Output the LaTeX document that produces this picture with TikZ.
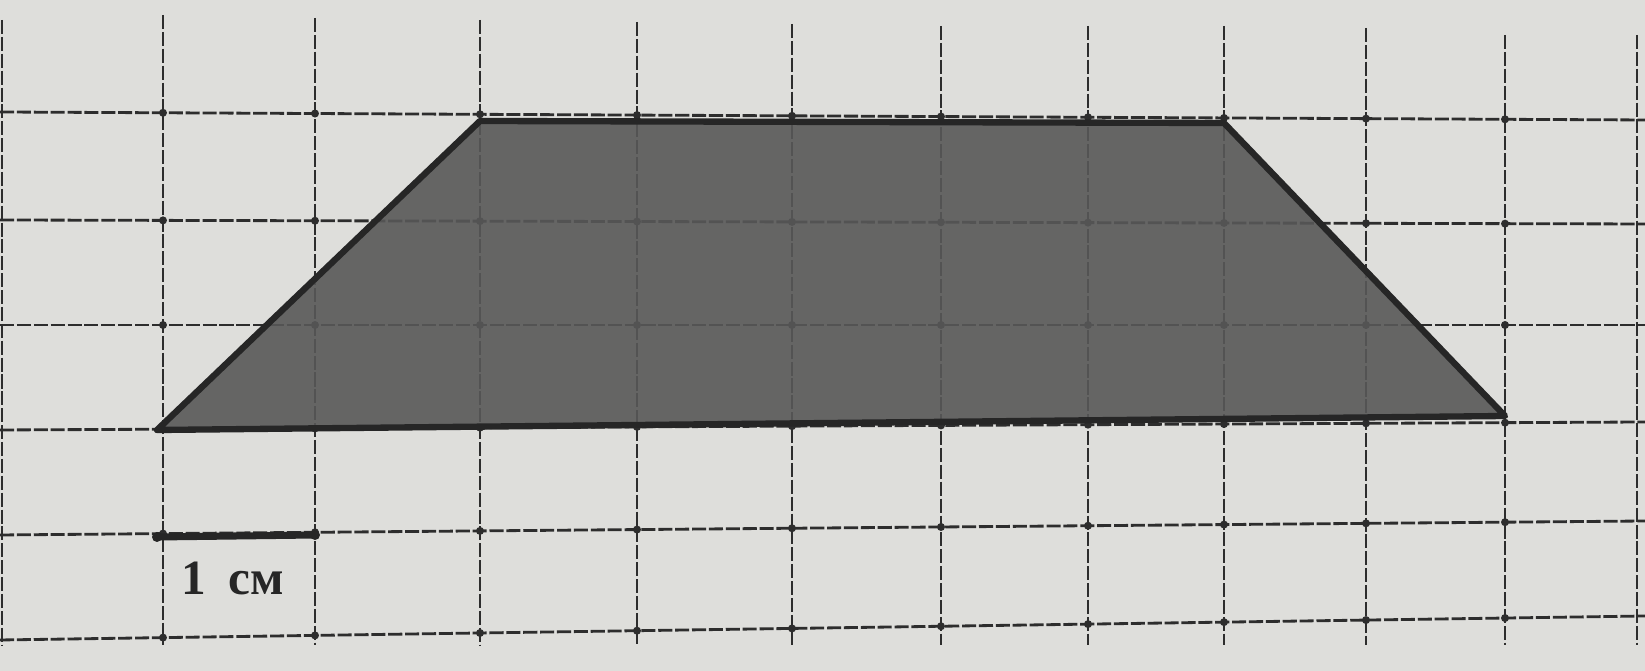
\documentclass[tikz,border=0pt]{standalone}
\usepackage{fontspec}
\newfontfamily\labelfont{Liberation Serif}
\definecolor{paper}{RGB}{222,222,219}
\definecolor{ink}{RGB}{45,45,45}
\definecolor{trapfill}{RGB}{88,88,88}
\tikzset{
  gridline/.style={draw=ink, line width=0.8pt, dash pattern=on 4pt off 0.8pt},
  griddot/.style={fill=ink},
  edge/.style={draw=black!85, line width=1.8pt, line join=round},
  scalebar/.style={draw=black!85, line width=2pt, line cap=round},
}
\begin{document}
\begin{tikzpicture}[x=0.01cm,y=-0.01cm]
\fill[paper] (0,0) rectangle (1645,671);
\useasboundingbox (0,0) rectangle (1645,671);
% vertical grid lines
\foreach \gx/\top in {2/20,163/15,315/18,480/20,637/22,792/24,941/26,1088/26,1224/26,1366/28,1505/35,1637/35}{
  \draw[gridline] (\gx,\top) -- (\gx,645);
}
% horizontal grid lines
\foreach \gy/\dy in {112/8,220/4,325/0,430/-8,535/-14,640/-24}{
  \draw[gridline] (0,\gy) -- (1645,\gy+\dy);
}
% intersection dots
\foreach \gx in {163,315,480,637,792,941,1088,1224,1366,1505}{
  \foreach \gy/\dy in {112/8,220/4,325/0,430/-8,535/-14,640/-24}{
    \fill[griddot] (\gx,{\gy+\dy*(\gx/1645)}) circle (4);
  }
}
% trapezoid
\coordinate (BL) at (157,430);
\coordinate (TL) at (480,121);
\coordinate (TR) at (1224,123);
\coordinate (BR) at (1505,416);
\fill[fill=trapfill, fill opacity=0.9] (BL) -- (TL) -- (TR) -- (BR) -- cycle;
\draw[edge] (BL) -- (TL) -- (TR) -- (BR) -- cycle;
% scale bar
\coordinate (S1) at (157,537);
\coordinate (S2) at (315,535);
\draw[scalebar] (S1) -- (S2);
\fill[black!85] (S1) circle (5) (S2) circle (5);
\node[font=\labelfont\bfseries\fontsize{14}{16}\selectfont, text=black!85] (lbl) at (233,578) {1\hspace{0.45em}см};
\end{tikzpicture}
\end{document}
